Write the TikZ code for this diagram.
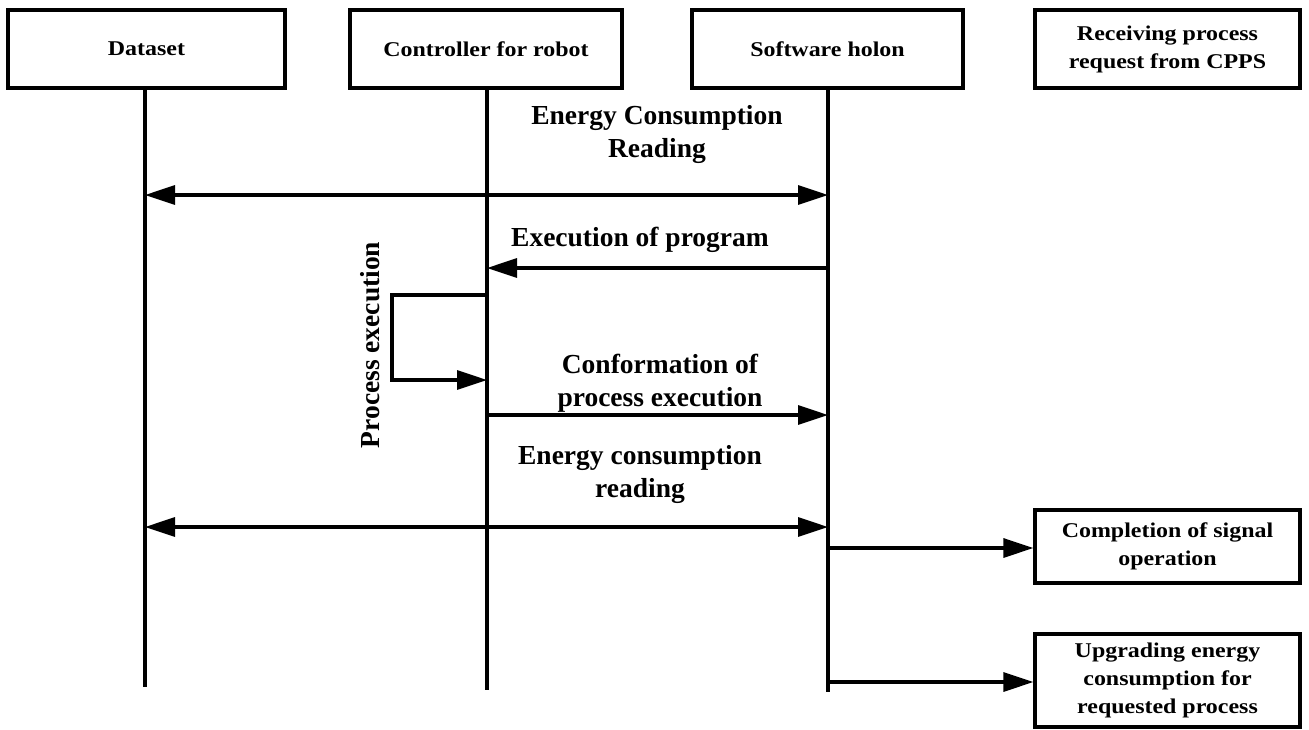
\documentclass[tikz,border=0pt]{standalone}
\usepackage{fontspec}
\setmainfont{Liberation Serif}
\newfontfamily\boxfont[FakeStretch=1.14]{Liberation Serif}
\usetikzlibrary{arrows.meta}
\begin{document}
\begin{tikzpicture}[x=1pt,y=-1pt,
  box/.style={draw,line width=3.2pt,minimum height=78pt,align=center,inner sep=2pt,
              font=\boxfont\bfseries\fontsize{21}{28}\selectfont},
  life/.style={line width=3.2pt},
  msg/.style={line width=3.2pt,-{Triangle[length=30pt,width=19pt]}},
  dmsg/.style={line width=3.2pt,{Triangle[length=30pt,width=19pt]}-{Triangle[length=30pt,width=19pt]}},
  lbl/.style={font=\bfseries\fontsize{27.5}{33}\selectfont,align=center}]
\useasboundingbox (0,0) rectangle (1309,729);
% participant boxes
\node[box,minimum width=277pt] (ds) at (146.5,49) {Dataset};
\node[box,minimum width=272pt] (ctl) at (486,49) {Controller for robot};
\node[box,minimum width=271pt] (sw) at (827.5,49) {Software holon};
\node[box,minimum width=265pt] (rcv) at (1167.5,49) {Receiving process\\request from CPPS};
% result boxes
\node[box,minimum width=265pt,minimum height=73pt] (cmp) at (1167.5,546.5) {Completion of signal\\operation};
\node[box,minimum width=265pt,minimum height=93pt] (upg) at (1167.5,680.5) {Upgrading energy\\consumption for\\requested process};
% lifeline end points
\coordinate (dsE) at (145,687);
\coordinate (ctlE) at (487,690);
\coordinate (swE) at (828,692);
\draw[life] (ds.south -| dsE) -- (dsE);
\draw[life] (ctl.south -| ctlE) -- (ctlE);
\draw[life] (sw.south -| swE) -- (swE);
% message anchor points on the lifelines
\coordinate (d1) at (145,195); \coordinate (s1) at (828,195);
\coordinate (s2) at (828,268); \coordinate (c2) at (487,268);
\coordinate (c3) at (487,295); \coordinate (c4) at (487,380);
\coordinate (l1) at (392,295); \coordinate (l2) at (392,380);
\coordinate (c5) at (487,415); \coordinate (s5) at (828,415);
\coordinate (d6) at (145,527); \coordinate (s6) at (828,527);
\coordinate (s7) at (828,548); \coordinate (s8) at (828,682);
% messages
\draw[dmsg] (d1) -- (s1);
\draw[msg] (s2) -- (c2);
\draw[msg] (c3) -- (l1) -- (l2) -- (c4);
\draw[msg] (c5) -- (s5);
\draw[dmsg] (d6) -- (s6);
\draw[msg] (s7) -- (cmp.west |- s7);
\draw[msg] (s8) -- (upg.west |- s8);
% message labels
\node[lbl] (t1) at (657,134) {Energy Consumption\\Reading};
\node[lbl] (t2) at (640,240) {Execution of program};
\node[lbl,rotate=90] (t3) at (370,345) {Process execution};
\node[lbl] (t4) at (660,383) {Conformation of\\process execution};
\node[lbl] (t5) at (640,474) {Energy consumption\\reading};
\end{tikzpicture}
\end{document}
